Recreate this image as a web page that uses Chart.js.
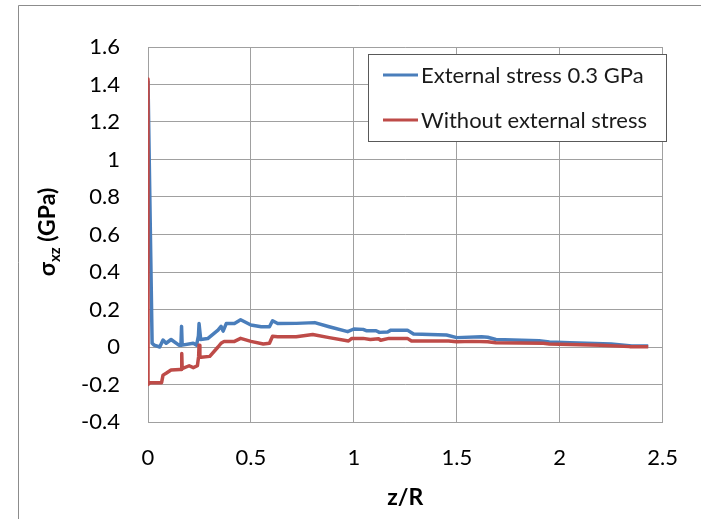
<!DOCTYPE html>
<html>
<head>
<meta charset="utf-8">
<script src="https://cdn.jsdelivr.net/npm/chart.js@4"></script>
<style>
  body { margin: 0; background: #fff; }
  canvas { display: block; }
</style>
</head>
<body>
<canvas id="stressChart" width="701" height="519"></canvas>
<script>
// z/R positions and sigma_xz (GPa)
const blueZ = [0, 0.02, 0.03, 0.057, 0.073, 0.088, 0.112, 0.15, 0.16, 0.163, 0.166, 0.22, 0.236, 0.245, 0.248, 0.256, 0.29, 0.34, 0.355, 0.365, 0.38, 0.42, 0.45, 0.5, 0.55, 0.59, 0.605, 0.63, 0.72, 0.81, 0.88, 0.97, 1.0, 1.045, 1.06, 1.108, 1.124, 1.164, 1.18, 1.26, 1.29, 1.45, 1.5, 1.62, 1.65, 1.69, 1.9, 1.95, 2.05, 2.25, 2.35, 2.43];
const blueStress = [1.42, 0.02, 0.01, 0.0, 0.037, 0.02, 0.04, 0.01, 0.01, 0.11, 0.01, 0.02, 0.01, 0.06, 0.125, 0.04, 0.045, 0.09, 0.11, 0.085, 0.125, 0.125, 0.145, 0.117, 0.108, 0.108, 0.14, 0.125, 0.126, 0.13, 0.108, 0.082, 0.096, 0.094, 0.087, 0.087, 0.078, 0.08, 0.09, 0.09, 0.069, 0.064, 0.05, 0.055, 0.052, 0.04, 0.033, 0.027, 0.023, 0.016, 0.005, 0.005];

const redZ = [0, 0, 0.01, 0.066, 0.073, 0.088, 0.112, 0.155, 0.162, 0.164, 0.166, 0.2, 0.22, 0.24, 0.246, 0.248, 0.252, 0.258, 0.3, 0.34, 0.355, 0.37, 0.42, 0.45, 0.5, 0.56, 0.59, 0.605, 0.63, 0.72, 0.8, 0.88, 0.974, 0.99, 1.045, 1.08, 1.12, 1.13, 1.17, 1.26, 1.28, 1.46, 1.5, 1.575, 1.65, 1.69, 1.92, 1.95, 2.2, 2.34, 2.43];
const redStress = [1.43, -0.2, -0.19, -0.19, -0.15, -0.14, -0.123, -0.12, -0.12, -0.035, -0.115, -0.1, -0.11, -0.1, -0.05, 0.01, -0.05, -0.055, -0.05, 0.0, 0.02, 0.03, 0.03, 0.046, 0.03, 0.016, 0.02, 0.057, 0.055, 0.055, 0.067, 0.05, 0.032, 0.046, 0.046, 0.04, 0.044, 0.036, 0.046, 0.046, 0.032, 0.032, 0.028, 0.03, 0.028, 0.023, 0.02, 0.016, 0.009, 0.002, 0.002];

const seriesNames = ["External stress 0.3 GPa", "Without external stress"];
const xTicks = [0, 0.5, 1, 1.5, 2, 2.5];
const yTicks = [-0.4, -0.2, 0, 0.2, 0.4, 0.6, 0.8, 1, 1.2, 1.4, 1.6];

const FONT = "Lato, 'Open Sans', sans-serif";
const GRID = "#a0a0a0";

function toPoints(xs, ys) {
  return xs.map((x, i) => ({ x: x, y: ys[i] }));
}

// outer frame of the chart object
const framePlugin = {
  id: "frame",
  beforeDraw(chart) {
    const ctx = chart.ctx;
    ctx.save();
    ctx.fillStyle = "#fff";
    ctx.fillRect(0, 0, chart.width, chart.height);
    ctx.strokeStyle = "#8c8c8c";
    ctx.lineWidth = 1;
    ctx.beginPath();
    ctx.moveTo(18.5, chart.height);
    ctx.lineTo(18.5, 5.5);
    ctx.lineTo(chart.width, 5.5);
    ctx.stroke();
    ctx.restore();
  },
};

// y title with subscript + legend box inside the plot
const overlayPlugin = {
  id: "overlay",
  afterDraw(chart) {
    const ctx = chart.ctx;
    ctx.save();

    // y axis title
    const big = "bold 23px " + FONT;
    const small = "bold 15px " + FONT;
    ctx.font = big;
    const wSigma = ctx.measureText("σ").width;
    const wRest = ctx.measureText(" (GPa)").width;
    ctx.font = small;
    const wSub = ctx.measureText("xz").width;
    const total = wSigma + wSub + wRest;
    ctx.translate(55, 232);
    ctx.rotate(-Math.PI / 2);
    ctx.fillStyle = "#000";
    ctx.textBaseline = "alphabetic";
    ctx.textAlign = "left";
    let x = -total / 2;
    ctx.font = big;
    ctx.fillText("σ", x, 0);
    x += wSigma;
    ctx.font = small;
    ctx.fillText("xz", x, 5);
    x += wSub;
    ctx.font = big;
    ctx.fillText(" (GPa)", x, 0);
    ctx.restore();

    // legend
    ctx.save();
    ctx.fillStyle = "#fff";
    ctx.fillRect(368, 54, 298, 87);
    ctx.strokeStyle = "#595959";
    ctx.lineWidth = 1;
    ctx.strokeRect(368.5, 54.5, 298, 87);
    ctx.font = "22px " + FONT;
    ctx.textBaseline = "middle";
    ctx.textAlign = "left";
    const rows = [75, 120];
    chart.data.datasets.forEach((ds, i) => {
      ctx.strokeStyle = ds.borderColor;
      ctx.lineWidth = 3;
      ctx.beginPath();
      ctx.moveTo(383, rows[i]);
      ctx.lineTo(418, rows[i]);
      ctx.stroke();
      ctx.fillStyle = "#1a1a1a";
      ctx.fillText(ds.label, 421, rows[i] + 1);
    });
    ctx.restore();
  },
};

new Chart(document.getElementById("stressChart").getContext("2d"), {
  type: "line",
  data: {
    datasets: [
      {
        label: seriesNames[0],
        data: toPoints(blueZ, blueStress),
        borderColor: "#4a7ebb",
        borderWidth: 3.5,
        pointRadius: 0,
        tension: 0,
        borderJoinStyle: "round",
        order: 1,
      },
      {
        label: seriesNames[1],
        data: toPoints(redZ, redStress),
        borderColor: "#be4b48",
        borderWidth: 3.5,
        pointRadius: 0,
        tension: 0,
        borderJoinStyle: "round",
        order: 0,
      },
    ],
  },
  options: {
    responsive: false,
    animation: false,
    devicePixelRatio: 1,
    layout: { padding: { top: 47, right: 26, left: 0, bottom: 0 } },
    plugins: {
      legend: { display: false },
      tooltip: { enabled: false },
    },
    scales: {
      x: {
        type: "linear",
        min: 0,
        max: 2.5,
        afterBuildTicks: (axis) => { axis.ticks = xTicks.map((v) => ({ value: v })); },
        afterFit: (axis) => { axis.height = 97; },
        ticks: {
          padding: 23,
          color: "#000",
          font: { family: FONT, size: 22 },
          callback: (v) => String(v),
        },
        grid: { color: GRID, drawTicks: false },
        border: { color: GRID },
        title: {
          display: true,
          text: "z/R",
          color: "#000",
          font: { family: FONT, size: 23, weight: "bold" },
          padding: { top: 0, bottom: 8 },
        },
      },
      y: {
        type: "linear",
        min: -0.4,
        max: 1.6,
        afterBuildTicks: (axis) => { axis.ticks = yTicks.map((v) => ({ value: v })); },
        afterFit: (axis) => { axis.width = 148; },
        ticks: {
          padding: 28,
          color: "#000",
          font: { family: FONT, size: 22 },
          callback: (v) => String(v),
        },
        grid: { color: GRID, drawTicks: false },
        border: { color: GRID },
      },
    },
  },
  plugins: [framePlugin, overlayPlugin],
});
</script>
</body>
</html>
